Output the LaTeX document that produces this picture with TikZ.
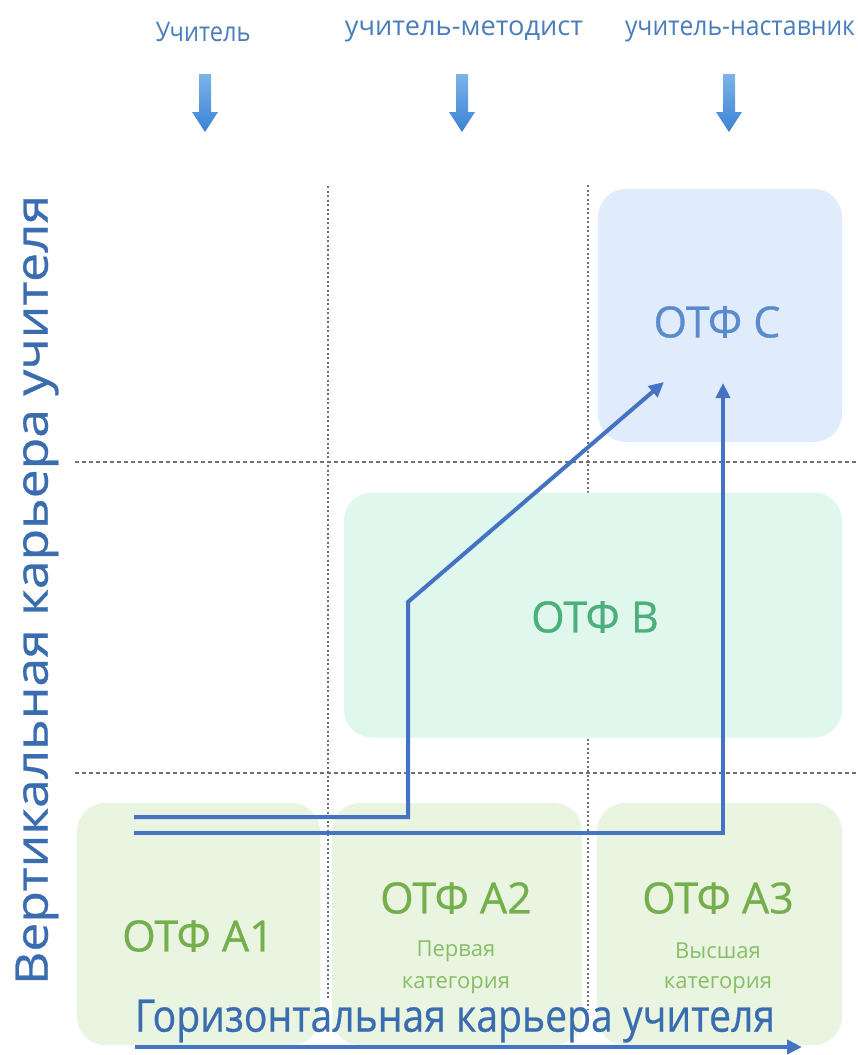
\documentclass[tikz,border=0pt]{standalone}
\usepackage{fontspec}
\usepackage{graphicx}
\setmainfont{Open Sans}
\newfontface\heavyfont{Open Sans}[FakeBold=0.6]
\usetikzlibrary{arrows.meta}
\definecolor{toplbl}{HTML}{4A7EBB}
\definecolor{axisblue}{HTML}{3A6CB0}
\definecolor{lineblue}{HTML}{4472C4}
\definecolor{greenA}{HTML}{74AF4C}
\definecolor{greenAsub}{HTML}{88BE66}
\definecolor{greenB}{HTML}{4BB07B}
\definecolor{blueC}{HTML}{5A8CCD}
\definecolor{fillA}{HTML}{E9F4E1}
\definecolor{fillB}{HTML}{E0F7EE}
\definecolor{fillC}{HTML}{E0ECFB}
\definecolor{dashgray}{HTML}{707070}
\definecolor{arrtop}{HTML}{7DB3E8}
\definecolor{arrbot}{HTML}{3A82D6}
\tikzset{
  boxA/.style={rectangle, rounded corners=28pt, fill=fillA, minimum height=242pt, inner sep=0pt},
  boxB/.style={rectangle, rounded corners=28pt, fill=fillB, inner sep=0pt},
  boxC/.style={rectangle, rounded corners=28pt, fill=fillC, inner sep=0pt},
  otfA/.style={text=greenA, font=\heavyfont\fontsize{43}{45}\selectfont, inner sep=0pt},
  subA/.style={text=greenAsub, font=\fontsize{22}{24}\selectfont, inner sep=0pt},
  toplabel/.style={text=toplbl, font=\fontsize{27}{29}\selectfont, inner sep=0pt},
  axislabel/.style={text=axisblue, font=\heavyfont\fontsize{45}{47}\selectfont, inner sep=0pt},
  vgrid/.style={dashgray, line width=1.2pt, dash pattern=on 2pt off 2.5pt},
  hgrid/.style={dashgray, line width=1.2pt, dash pattern=on 4pt off 3pt},
  conn/.style={lineblue, line width=4pt, line join=miter, -{Triangle[length=15pt,width=14pt]}},
}
\newcommand{\downarr}[1]{%
  \shade[top color=arrtop, bottom color=arrbot]
    (#1-6,74) -- (#1+6,74) -- (#1+6,112) -- (#1+13,112) -- (#1,132) -- (#1-13,112) -- (#1-6,112) -- cycle;}
\begin{document}
\begin{tikzpicture}[x=1pt,y=-1pt]
\useasboundingbox[fill=white] (0,0) rectangle (858,1055);
% grid
\draw[vgrid] (328,186) -- (328,1000);
\draw[vgrid] (588,185) -- (588,1010);
\draw[hgrid] (75,462) -- (858,462);
\draw[hgrid] (75,773) -- (858,773);
% boxes
\node[boxA, minimum width=243pt] (A1) at (198.5,924) {};
\node[boxA, minimum width=250pt] (A2) at (457,924) {};
\node[boxA, minimum width=245pt] (A3) at (719.5,924) {};
\node[boxB, minimum width=498pt, minimum height=245pt] (B) at (593,615) {};
\node[boxC, minimum width=244pt, minimum height=253pt] (C) at (720,315.5) {};
% box labels
\node[otfA] (tA1) at (198,936) {ОТФ A1};
\node[otfA] (tA2) at (456,898) {ОТФ A2};
\node[subA] (sA2a) at (456,951) {Первая};
\node[subA] (sA2b) at (456,985) {категория};
\node[otfA] (tA3) at (718,898) {ОТФ A3};
\node[subA] (sA3a) at (718,951) {Высшая};
\node[subA] (sA3b) at (718,985) {категория};
\node[otfA, text=greenB] (tB) at (595,617) {ОТФ B};
\node[otfA, text=blueC] (tC) at (717,322) {ОТФ C};
% top labels
\node[toplabel] (L1) at (203,32) {\resizebox{95pt}{\height}{Учитель}};
\node[toplabel] (L2) at (464,31) {\resizebox{238pt}{\height}{учитель-методист}};
\node[toplabel] (L3) at (740,31) {\resizebox{230pt}{\height}{учитель-наставник}};
\downarr{205}
\downarr{462}
\downarr{729}
% axes labels
\node[axislabel, rotate=90] (V) at (37,590) {\resizebox{790pt}{\height}{Вертикальная карьера учителя}};
\node[axislabel] (H) at (455,1021) {\resizebox{640pt}{\height}{Горизонтальная карьера учителя}};
% connectors
\coordinate (s1) at (134,817);
\coordinate (k1) at (408,817);
\coordinate (k2) at (408,602);
\coordinate (e1) at (664,382);
\draw[conn] (s1) -- (k1) -- (k2) -- (e1);
\coordinate (s2) at (134,833);
\coordinate (k3) at (723,833);
\coordinate (e2) at (723,383);
\draw[conn] (s2) -- (k3) -- (e2);
\coordinate (h1) at (135,1047);
\coordinate (h2) at (802,1047);
\draw[conn] (h1) -- (h2);
\end{tikzpicture}
\end{document}
